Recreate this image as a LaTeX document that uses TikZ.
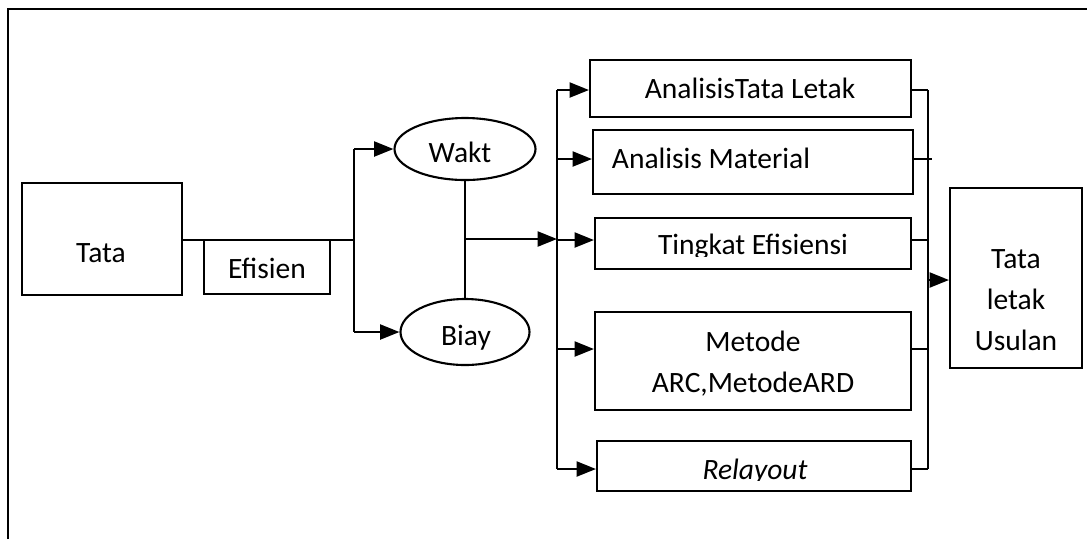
\documentclass[tikz,border=0pt]{standalone}
\usepackage{fontspec}
\setmainfont{Carlito}
\usetikzlibrary{arrows.meta,shapes.geometric}
\tikzset{
  kotak/.style={draw,line width=1.2pt,rectangle,inner sep=0pt},
  elips/.style={draw,line width=1.2pt,ellipse,inner sep=0pt},
  garis/.style={line width=1.3pt},
  panah/.style={garis,-{Triangle[length=11pt,width=8.5pt]}},
  teks/.style={anchor=base,inner sep=0pt,font=\fontsize{16.8}{20}\selectfont}
}
\begin{document}
\begin{tikzpicture}[x=0.02cm,y=-0.02cm]
  \def\u{0.02cm} \def\xbus{557} \def\xbuk{928}
  \useasboundingbox (0,0) rectangle (1087,539);
  \draw[garis] (8,539) -- (8,9) -- (1087,9);
  \node[kotak,minimum width=160*\u,minimum height=112*\u] (tata) at (102,239) {};
  \node[teks] (t-tata) at (101,262) {Tata};
  \node[kotak,minimum width=126*\u,minimum height=54*\u] (efisien) at (267,267) {};
  \node[teks] (t-efisien) at (267,278) {Efisien};
  \node[elips,minimum width=141*\u,minimum height=62*\u] (wakt) at (465,149) {};
  \node[teks] (t-wakt) at (460,162) {Wakt};
  \node[elips,minimum width=129*\u,minimum height=66*\u] (biay) at (465,332) {};
  \node[teks] (t-biay) at (466,345) {Biay};
  \coordinate (j) at (354,240);
  \coordinate (m) at (465,239);
  \draw[garis] (tata.east |- j) -- (j);
  \draw[garis] (j |- wakt.west) -- (j |- biay.west);
  \draw[panah] (j |- wakt.west) -- (wakt.west);
  \draw[panah] (j |- biay.west) -- (biay.west);
  \draw[garis] (wakt.south) -- (biay.north);
  \coordinate (busA) at (\xbus,90);
  \coordinate (busB) at (\xbus,469);
  \coordinate (bukA) at (\xbuk,90);
  \coordinate (bukB) at (\xbuk,469);
  \draw[panah] (m) -- (busA |- m);
  \draw[garis] (busA) -- (busB);
  \draw[garis] (bukA) -- (bukB);
  \foreach \nm/\xa/\xb/\ya/\yb/\yp/\xe in {
      an1/590/911/60/117/90/928,
      an2/593/913/130/194/159/932,
      an3/595/911/218/269/240/928,
      an4/595/911/312/410/349/928,
      an5/597/911/441/491/469/928}{
    \pgfmathsetmacro\xc{(\xa+\xb)/2}
    \pgfmathsetmacro\yc{(\ya+\yb)/2}
    \node[kotak,minimum width={(\xb-\xa)*\u},minimum height={(\yb-\ya)*\u}] (\nm) at (\xc,\yc) {};
    \coordinate (\nm-k) at (\xbus,\yp);
    \coordinate (\nm-e) at (\xe,\yp);
    \draw[panah] (\nm-k) -- (\nm.west |- \nm-k);
    \draw[garis] (\nm.east |- \nm-e) -- (\nm-e);
  }
  \node[teks] (t-an1) at (750,98) {AnalisisTata Letak};
  \node[teks] (t-an2) at (711,168) {Analisis Material};
  \begin{scope}
    \clip (596,220) rectangle (910,256);
    \node[teks] (t-an3) at (753,254) {Tingkat Efisiensi};
  \end{scope}
  \node[teks] (t-an4a) at (753,351) {Metode};
  \node[teks] (t-an4b) at (753,392) {ARC,MetodeARD};
  \begin{scope}
    \clip (598,443) rectangle (910,480);
    \node[teks,font=\fontsize{16.8}{20}\selectfont\itshape] (t-an5) at (755,479) {Relayout};
  \end{scope}
  \node[kotak,minimum width=132*\u,minimum height=180*\u] (usulan) at (1016,278) {};
  \coordinate (u) at (\xbuk,280);
  \draw[panah] (u) -- (usulan.west |- u);
  \foreach \baris [count=\i] in {Tata,letak,Usulan}{
    \pgfmathsetmacro\yb{268+(\i-1)*41}
    \node[teks] (t-usulan\i) at (1016,\yb) {\baris};
  }
\end{tikzpicture}
\end{document}
